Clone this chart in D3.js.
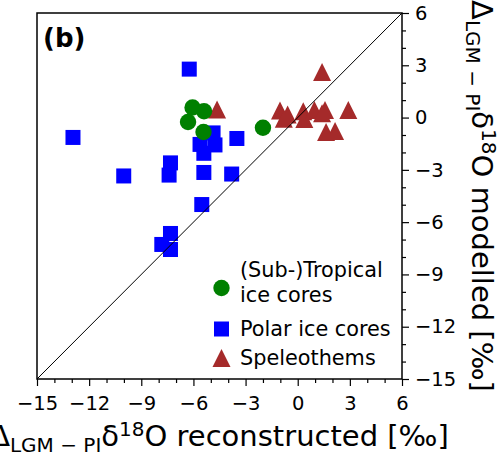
<!DOCTYPE html>
<html>
<head>
<meta charset="utf-8">
<script src="https://cdn.jsdelivr.net/npm/d3@7"></script>
<style>
  body { margin: 0; background: #fff; }
  text { font-family: "DejaVu Sans", sans-serif; }
</style>
</head>
<body>
<div id="container"></div>
<script>
/* CONSTANTS AND GLOBALS */
const width = 503,
  height = 458,
  margin = { top: 13, bottom: 79, left: 37, right: 101 }

/* DATA */
// (Sub-)Tropical ice cores
const tropX = [-6.05, -5.39, -6.31, -5.42, -2.0]
const tropY = [0.58, 0.36, -0.25, -0.83, -0.58]
// Polar ice cores
const polarX = [-12.93, -10.01, -7.32, -7.4, -7.32, -7.82, -7.32, -5.52, -6.24, -4.87, -5.62, -4.76, -5.4, -3.5, -5.4, -3.8]
const polarY = [-1.14, -3.35, -2.6, -3.3, -6.65, -7.28, -7.57, -4.99, 2.78, -0.88, -1.54, -1.57, -2.05, -1.2, -3.15, -3.24]
// Speleothems
const speleoX = [-4.64, 1.40, -1.02, -0.58, -0.8, 0.32, 0.38, 0.96, 1.57, 1.40, 2.91, 1.63, 2.15]
const speleoY = [0.46, 2.62, 0.41, 0.17, -0.07, 0.36, -0.08, 0.43, 0.43, 0.25, 0.43, -0.83, -0.77]

const domain = [-15, 6]
const majorTicks = [-15, -12, -9, -6, -3, 0, 3, 6]
const minorTicks = d3.range(-15, 7, 1).filter(v => !majorTicks.includes(v))
const legendLabels = [["(Sub-)Tropical", "ice cores"], ["Polar ice cores"], ["Speleothems"]]

const zip = (xs, ys) => xs.map((v, i) => ({ x: v, y: ys[i] }))
const trop = zip(tropX, tropY)
const polar = zip(polarX, polarY)
const speleo = zip(speleoX, speleoY)

// SCALES
const xScale = d3.scaleLinear().domain(domain).range([margin.left, width - margin.right])
const yScale = d3.scaleLinear().domain(domain).range([height - margin.bottom, margin.top])

// CREATE SVG ELEMENT
const svg = d3.select("#container")
  .append("svg")
  .attr("width", width)
  .attr("height", height)

// marker shapes
const triPath = (cx, cy, s) => `M${cx},${cy - s / 2}L${cx + s / 2},${cy + s / 2}L${cx - s / 2},${cy + s / 2}Z`

// polar squares
svg.append("g").selectAll("rect")
  .data(polar)
  .join("rect")
  .attr("x", d => xScale(d.x) - 7.5)
  .attr("y", d => yScale(d.y) - 7.5)
  .attr("width", 15)
  .attr("height", 15)
  .attr("fill", "#0000ff")

// speleothem triangles
svg.append("g").selectAll("path")
  .data(speleo)
  .join("path")
  .attr("d", d => triPath(xScale(d.x), yScale(d.y), 18))
  .attr("fill", "#a52a2a")

// tropical circles
svg.append("g").selectAll("circle")
  .data(trop)
  .join("circle")
  .attr("cx", d => xScale(d.x))
  .attr("cy", d => yScale(d.y))
  .attr("r", 8.2)
  .attr("fill", "#008000")

// 1:1 line
svg.append("line")
  .attr("x1", xScale(-15)).attr("y1", yScale(-15))
  .attr("x2", xScale(6)).attr("y2", yScale(6))
  .attr("stroke", "black")
  .attr("stroke-width", 1)

// frame
svg.append("rect")
  .attr("x", xScale(-15)).attr("y", yScale(6))
  .attr("width", xScale(6) - xScale(-15))
  .attr("height", yScale(-15) - yScale(6))
  .attr("fill", "none")
  .attr("stroke", "black")
  .attr("stroke-width", 1.5)

// BUILD AND CALL AXES
svg.append("g")
  .attr("transform", `translate(0,${yScale(-15)})`)
  .call(d3.axisBottom(xScale).tickValues(majorTicks).tickSize(7).tickPadding(10).tickSizeOuter(0))
svg.append("g")
  .attr("transform", `translate(0,${yScale(-15)})`)
  .call(d3.axisBottom(xScale).tickValues(minorTicks).tickSize(4).tickFormat("").tickSizeOuter(0))

svg.append("g")
  .attr("transform", `translate(${xScale(6)},0)`)
  .call(d3.axisRight(yScale).tickValues(majorTicks).tickSize(7).tickPadding(6).tickSizeOuter(0))
svg.append("g")
  .attr("transform", `translate(${xScale(6)},0)`)
  .call(d3.axisRight(yScale).tickValues(minorTicks).tickSize(4).tickFormat("").tickSizeOuter(0))

svg.selectAll(".domain").remove()
svg.selectAll(".tick line").attr("stroke", "black").attr("stroke-width", 1.2)
svg.selectAll(".tick text")
  .attr("fill", "black")
  .style("font-size", "19.5px")
  .style("font-family", "DejaVu Sans")

// axis labels
const xLab = svg.append("text")
  .attr("x", (xScale(-15) + xScale(6)) / 2)
  .attr("y", 446)
  .attr("text-anchor", "middle")
  .style("font-size", "29px")
xLab.append("tspan").text("Δ")
xLab.append("tspan").attr("dy", 6).style("font-size", "20px").text("LGM − PI")
xLab.append("tspan").attr("dy", -6).text("δ")
xLab.append("tspan").attr("dy", -10).style("font-size", "20px").text("18")
xLab.append("tspan").attr("dy", 10).text("O reconstructed [‰]")

const yLab = svg.append("text")
  .attr("transform", `translate(472,${(yScale(-15) + yScale(6)) / 2}) rotate(90)`)
  .attr("text-anchor", "middle")
  .style("font-size", "29px")
yLab.append("tspan").text("Δ")
yLab.append("tspan").attr("dy", 6).style("font-size", "20px").text("LGM − PI")
yLab.append("tspan").attr("dy", -6).text("δ")
yLab.append("tspan").attr("dy", -10).style("font-size", "20px").text("18")
yLab.append("tspan").attr("dy", 10).text("O modelled [‰]")

// panel label
svg.append("text")
  .attr("x", 43)
  .attr("y", 47)
  .style("font-size", "26px")
  .style("font-weight", "bold")
  .text("(b)")

// LEGEND
const legend = svg.append("g")
const lx = 221.5
legend.append("circle").attr("cx", lx).attr("cy", 288).attr("r", 8.2).attr("fill", "#008000")
legend.append("rect").attr("x", lx - 7.5).attr("y", 329 - 7.5).attr("width", 15).attr("height", 15).attr("fill", "#0000ff")
legend.append("path").attr("d", triPath(lx, 358, 18)).attr("fill", "#a52a2a")

const legY = [[277, 302], [336], [365]]
legendLabels.forEach((lines, i) => {
  lines.forEach((t, j) => {
    legend.append("text")
      .attr("x", 240)
      .attr("y", legY[i][j])
      .style("font-size", "20.8px")
      .text(t)
  })
})
</script>
</body>
</html>
